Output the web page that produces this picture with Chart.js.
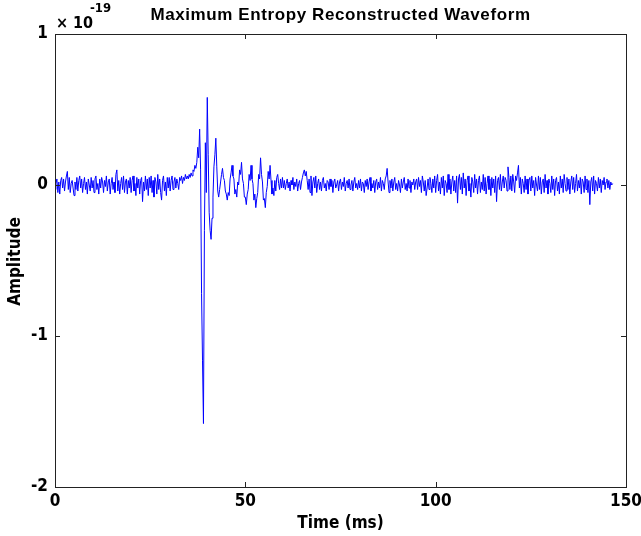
<!DOCTYPE html>
<html>
<head>
<meta charset="utf-8">
<script src="https://cdn.jsdelivr.net/npm/chart.js@4"></script>
<style>
  html, body { margin: 0; padding: 0; background: #fff; }
  #wrap { width: 641px; height: 536px; position: relative; }
</style>
</head>
<body>
<div id="wrap"><canvas id="wave"></canvas></div>
<script>
// sample interval of the waveform, in ms
const SAMPLE_MS = 0.25;

// amplitude values in units of 1e-19, one line = 5 ms
const amplitude = [
  -0.03, 0.01, 0.04, -0.05, 0.02, -0.06, 0.03, 0.05, -0.02, 0.04, -0.04, 0.02, 0.06, 0.09, -0.03, 0.05, -0.05, 0.01, 0.03, -0.02,
  -0.07, 0.02, -0.03, 0.05, -0.04, 0.03, 0.06, -0.02, 0.04, -0.05, 0.01, 0.05, -0.03, 0.02, -0.06, 0.04, 0.00, -0.04, 0.05, -0.02,
  0.03, -0.05, 0.04, 0.06, -0.03, 0.01, -0.06, 0.04, -0.02, 0.05, 0.02, -0.05, 0.03, -0.01, 0.06, -0.04, 0.02, 0.04, -0.06, 0.01,
  0.05, -0.03, 0.02, -0.05, 0.07, 0.10, -0.04, 0.03, -0.06, 0.01, 0.05, -0.03, 0.06, -0.05, 0.02, 0.04, -0.06, 0.03, -0.02, 0.05,
  -0.05, 0.03, 0.06, -0.04, 0.01, -0.07, 0.05, -0.02, 0.04, -0.06, 0.03, 0.05, -0.11, 0.02, -0.04, 0.06, -0.03, 0.04, -0.07, 0.05,
  -0.02, 0.06, -0.05, 0.03, -0.08, 0.05, 0.02, -0.06, 0.07, -0.03, 0.04, -0.05, -0.10, 0.03, 0.06, -0.04, 0.02, -0.07, 0.05, -0.02,
  0.05, -0.04, 0.03, 0.06, -0.03, 0.02, 0.05, -0.02, 0.04, 0.01, -0.03, 0.05, 0.03, 0.06, 0.01, 0.05, 0.03, 0.07, 0.04, 0.06,
  0.04, 0.07, 0.05, 0.08, 0.06, 0.10, 0.09, 0.13, 0.11, 0.15, 0.25, 0.18, 0.37, 0.10, -0.72, -1.16, -1.58, -0.30, 0.28, -0.05,
  0.58, 0.20, -0.18, -0.30, -0.36, -0.22, -0.08, 0.12, 0.20, 0.31, 0.12, -0.04, -0.08, -0.03, 0.02, 0.07, 0.11, 0.05, 0.03, -0.04,
  -0.06, -0.10, -0.05, -0.07, 0.04, 0.08, 0.13, 0.06, 0.04, -0.06, -0.03, -0.08, 0.02, 0.00, 0.10, 0.07, 0.15, 0.04, 0.01, -0.08,
  -0.08, -0.13, -0.06, -0.03, 0.07, 0.03, 0.13, 0.04, 0.01, -0.10, -0.06, -0.15, -0.09, -0.05, 0.07, 0.04, 0.18, 0.07, 0.02, -0.10,
  -0.09, -0.15, -0.05, -0.01, 0.09, 0.04, 0.13, 0.03, -0.06, -0.02, -0.07, 0.03, -0.04, 0.05, 0.07, 0.01, -0.03, 0.04, -0.02, 0.05,
  -0.02, 0.03, -0.03, 0.01, 0.04, -0.02, 0.02, -0.04, 0.03, 0.00, 0.05, -0.03, 0.02, -0.01, 0.04, -0.04, 0.01, 0.03, -0.03, 0.02,
  0.05, 0.08, 0.10, 0.06, 0.09, 0.03, -0.03, 0.04, -0.05, 0.06, -0.07, 0.02, 0.05, -0.02, 0.06, -0.05, 0.01, 0.04, -0.03, 0.02,
  -0.04, 0.03, 0.05, -0.02, 0.01, -0.04, 0.03, 0.02, -0.03, 0.04, -0.01, 0.03, -0.05, 0.02, 0.04, -0.02, 0.00, 0.03, -0.04, 0.02,
  0.04, -0.03, 0.02, -0.01, 0.05, -0.04, 0.01, 0.03, -0.02, 0.04, -0.03, 0.00, 0.03, -0.04, 0.02, 0.05, -0.02, 0.01, -0.03, 0.03,
  -0.02, 0.04, -0.04, 0.02, 0.01, -0.05, 0.03, -0.01, 0.04, -0.03, 0.02, 0.05, -0.04, 0.01, -0.02, 0.03, -0.05, 0.02, 0.04, -0.03,
  0.02, -0.02, 0.05, -0.04, 0.03, 0.01, -0.03, 0.04, 0.06, 0.11, 0.02, -0.05, 0.03, -0.02, 0.04, -0.04, 0.02, 0.05, -0.03, 0.01,
  -0.04, 0.03, 0.00, -0.05, 0.04, -0.02, 0.02, 0.05, -0.03, 0.01, -0.04, 0.04, -0.02, 0.03, -0.05, 0.02, 0.00, 0.04, -0.03, 0.02,
  0.04, -0.03, 0.05, -0.01, 0.03, -0.05, 0.06, 0.02, -0.04, 0.03, -0.07, -0.02, 0.04, -0.03, 0.05, 0.01, -0.05, 0.04, -0.02, 0.06,
  -0.05, 0.03, 0.07, -0.04, 0.02, -0.06, 0.05, -0.02, 0.06, -0.07, 0.03, 0.01, -0.05, 0.07, -0.03, 0.04, -0.06, 0.02, 0.06, -0.04,
  0.03, -0.05, 0.06, -0.12, 0.04, 0.07, -0.03, 0.05, -0.06, 0.08, -0.02, 0.04, -0.07, 0.03, 0.06, -0.04, 0.01, -0.08, 0.05, 0.02,
  -0.05, 0.07, -0.02, 0.04, -0.06, 0.03, 0.06, -0.05, 0.02, -0.03, 0.07, -0.04, 0.05, -0.06, 0.01, 0.06, -0.03, 0.04, -0.07, 0.05,
  -0.02, 0.04, -0.05, 0.06, -0.11, 0.03, 0.05, -0.03, 0.07, -0.04, 0.02, 0.06, -0.02, 0.05, 0.03, -0.04, 0.12, 0.05, -0.03, 0.06,
  -0.04, 0.07, 0.02, -0.05, 0.06, 0.03, 0.08, 0.13, -0.02, 0.05, -0.06, 0.04, 0.01, -0.05, 0.06, -0.03, 0.04, -0.06, 0.03, 0.05,
  -0.04, 0.06, -0.02, 0.03, -0.07, 0.05, 0.00, -0.04, 0.06, -0.03, 0.05, -0.06, 0.02, 0.04, -0.05, 0.07, -0.02, 0.03, -0.06, 0.04,
  0.01, -0.05, 0.06, -0.03, 0.04, -0.07, 0.03, 0.05, -0.04, 0.02, -0.06, 0.06, -0.02, 0.04, -0.05, 0.07, 0.01, -0.04, 0.05, -0.03,
  0.04, -0.06, 0.02, 0.06, -0.03, 0.05, -0.05, 0.01, 0.07, -0.04, 0.03, -0.02, 0.05, -0.06, 0.04, 0.02, -0.05, 0.06, -0.03, 0.04,
  -0.05, 0.03, -0.13, 0.02, 0.05, -0.04, 0.06, -0.06, 0.03, 0.01, -0.04, 0.05, -0.02, 0.04, -0.05, 0.03, 0.00, 0.05, -0.03, 0.02,
  0.04, -0.02, 0.03, -0.03, 0.02, 0.00, 0.01
];
const timeMs = amplitude.map((_, i) => i * SAMPLE_MS);

const xTicks = [0, 50, 100, 150];
const yTicks = [-2, -1, 0, 1];

const chartTitle = 'Maximum Entropy Reconstructed Waveform';
const xTitle = 'Time (ms)';
const yTitle = 'Amplitude';

const narrow = '"DejaVu Sans Condensed", "Liberation Sans Narrow", "Liberation Sans", sans-serif';

// box, inward ticks and the texts matlab puts around the axes
const matlabFrame = {
  id: 'matlabFrame',
  afterDraw(chart) {
    const { ctx, chartArea: a, scales } = chart;
    ctx.save();
    ctx.strokeStyle = '#222';
    ctx.lineWidth = 1;
    ctx.strokeRect(a.left + 0.5, a.top + 0.5, a.right - a.left, a.bottom - a.top);
    ctx.beginPath();
    xTicks.forEach(v => {
      const px = Math.round(scales.x.getPixelForValue(v)) + 0.5;
      ctx.moveTo(px, a.bottom); ctx.lineTo(px, a.bottom - 5);
      ctx.moveTo(px, a.top); ctx.lineTo(px, a.top + 5);
    });
    yTicks.forEach(v => {
      const py = Math.round(scales.y.getPixelForValue(v)) + 0.5;
      ctx.moveTo(a.left, py); ctx.lineTo(a.left + 5, py);
      ctx.moveTo(a.right, py); ctx.lineTo(a.right - 5, py);
    });
    ctx.stroke();

    ctx.fillStyle = '#000';
    ctx.textAlign = 'center';
    ctx.textBaseline = 'alphabetic';
    ctx.font = 'bold 17px "Liberation Sans", Arial, sans-serif';
    ctx.letterSpacing = '0.6px';
    ctx.fillText(chartTitle, (a.left + a.right) / 2, 20);
    ctx.letterSpacing = '0px';

    ctx.font = 'bold 17px ' + narrow;
    ctx.fillText(xTitle, (a.left + a.right) / 2, 528);

    ctx.save();
    ctx.translate(20, (a.top + a.bottom) / 2 + 1);
    ctx.rotate(-Math.PI / 2);
    ctx.fillText(yTitle, 0, 0);
    ctx.restore();

    ctx.textAlign = 'left';
    ctx.font = 'bold 16px ' + narrow;
    ctx.fillText('\u00d7 10', a.left + 1, 28);
    ctx.font = 'bold 13px ' + narrow;
    ctx.fillText('-19', a.left + 35, 12);
    ctx.restore();
  }
};

new Chart(document.getElementById('wave'), {
  type: 'line',
  data: {
    datasets: [{
      data: timeMs.map((t, i) => ({ x: t, y: amplitude[i] })),
      borderColor: '#0000ff',
      borderWidth: 1,
      pointRadius: 0,
      tension: 0,
      fill: false
    }]
  },
  options: {
    responsive: true,
    maintainAspectRatio: false,
    animation: false,
    layout: { padding: { left: 0, right: 15, top: 34, bottom: 0 } },
    plugins: {
      legend: { display: false },
      tooltip: { enabled: false }
    },
    scales: {
      x: {
        type: 'linear',
        min: 0,
        max: 150,
        afterBuildTicks: s => { s.ticks = xTicks.map(v => ({ value: v })); },
        afterFit: s => { s.height = 49; s.paddingRight = 0; s.paddingLeft = 0; },
        grid: { display: false, drawTicks: false },
        border: { display: false },
        ticks: { color: '#000', padding: 4, maxRotation: 0, font: { family: narrow, size: 17, weight: 'bold' } }
      },
      y: {
        min: -2,
        max: 1,
        afterBuildTicks: s => { s.ticks = yTicks.map(v => ({ value: v })); },
        afterFit: s => { s.width = 55; s.paddingTop = 0; s.paddingBottom = 0; },
        grid: { display: false, drawTicks: false },
        border: { display: false },
        ticks: { color: '#000', padding: 7, font: { family: narrow, size: 17, weight: 'bold' } }
      }
    }
  },
  plugins: [matlabFrame]
});
</script>
</body>
</html>
